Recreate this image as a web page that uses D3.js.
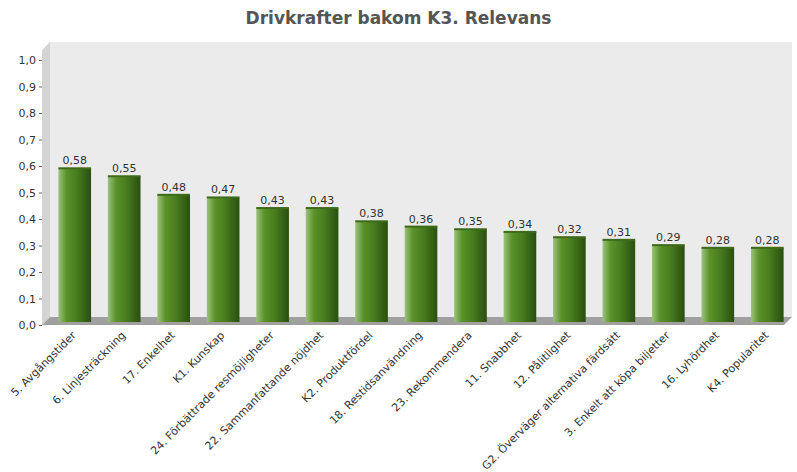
<!DOCTYPE html>
<html><head><meta charset="utf-8">
<script src="https://cdn.jsdelivr.net/npm/d3@7"></script>
<style>body{margin:0;background:#fff}text{font-family:"DejaVu Sans",Verdana,sans-serif}</style>
</head><body><div id="chart"></div>
<script>
const categories = ["5. Avgångstider","6. Linjesträckning","17. Enkelhet","K1. Kunskap","24. Förbättrade resmöjligheter","22. Sammanfattande nöjdhet","K2. Produktfördel","18. Restidsanvändning","23. Rekommendera","11. Snabbhet","12. Pålitlighet","G2. Överväger alternativa färdsätt","3. Enkelt att köpa biljetter","16. Lyhördhet","K4. Popularitet"];
const values = [0.58,0.55,0.48,0.47,0.43,0.43,0.38,0.36,0.35,0.34,0.32,0.31,0.29,0.28,0.28];
const yTicks = [0,0.1,0.2,0.3,0.4,0.5,0.6,0.7,0.8,0.9,1.0];

const W = 797, H = 472;
const svg = d3.select("#chart").append("svg").attr("width", W).attr("height", H);
const fmt = v => d3.format(".1f")(v).replace(".", ",");
const fmt2 = v => d3.format(".2f")(v).replace(".", ",");

const left = 42, right = 792, depth = 8;
const y = d3.scaleLinear().domain([0, 1]).range([325, 60]);
const x = d3.scaleBand().domain(categories).range([left + depth, right]).paddingInner(0.34).paddingOuter(0.17);

const defs = svg.append("defs");
const g1 = defs.append("linearGradient").attr("id", "bar");
g1.append("stop").attr("offset", "0%").attr("stop-color", "#9cc27c");
g1.append("stop").attr("offset", "25%").attr("stop-color", "#5a9229");
g1.append("stop").attr("offset", "55%").attr("stop-color", "#4a7d1f");
g1.append("stop").attr("offset", "100%").attr("stop-color", "#2a4f10");

svg.append("text").attr("x", W / 2).attr("y", 24).attr("text-anchor", "middle")
  .attr("font-size", 17).attr("font-weight", "bold").attr("fill", "#555")
  .text("Drivkrafter bakom K3. Relevans");

// back wall, side wall, floor
svg.append("rect").attr("x", left + depth).attr("y", y(1) - 18).attr("width", right - left - depth).attr("height", y(0) - depth - y(1) + 18).attr("fill", "#ebebeb");
svg.append("polygon").attr("points", [[left, y(1) - 10], [left + depth, y(1) - 18], [left + depth, y(0) - depth], [left, y(0)]].join(" ")).attr("fill", "#d4d4d4");
svg.append("polygon").attr("points", [[left, y(0)], [left + depth, y(0) - depth], [right, y(0) - depth], [right - depth, y(0)]].join(" ")).attr("fill", "#a0a0a0");

// y axis
const ya = svg.append("g").attr("transform", `translate(${left},0)`)
  .call(d3.axisLeft(y).tickValues(yTicks).tickFormat(fmt).tickSize(3));
ya.select(".domain").remove();
ya.selectAll("text").attr("font-size", 11).attr("fill", "#333").attr("font-family", "DejaVu Sans, sans-serif");
ya.selectAll("line").attr("stroke", "#666");

// bars
const bars = svg.append("g").selectAll("g").data(values).join("g");
bars.append("rect")
  .attr("x", (d, i) => x(categories[i]))
  .attr("y", d => y(d) - 3)
  .attr("width", x.bandwidth())
  .attr("height", d => y(0) - y(d))
  .attr("fill", "url(#bar)");
bars.append("rect")
  .attr("x", (d, i) => x(categories[i]))
  .attr("y", d => y(d) - 4)
  .attr("width", x.bandwidth()).attr("height", 2).attr("fill", "#3d6b1a");
bars.append("text")
  .attr("x", (d, i) => x(categories[i]) + x.bandwidth() / 2)
  .attr("y", d => y(d) - 7)
  .attr("text-anchor", "middle").attr("font-size", 11).attr("fill", "#333")
  .text(fmt2);

// category labels
svg.append("g").selectAll("text").data(categories).join("text")
  .attr("transform", d => `translate(${x(d) + x.bandwidth() / 2 + 2},${336}) rotate(-45)`)
  .attr("text-anchor", "end").attr("font-size", 11).attr("fill", "#333")
  .text(d => d);
</script></body></html>
